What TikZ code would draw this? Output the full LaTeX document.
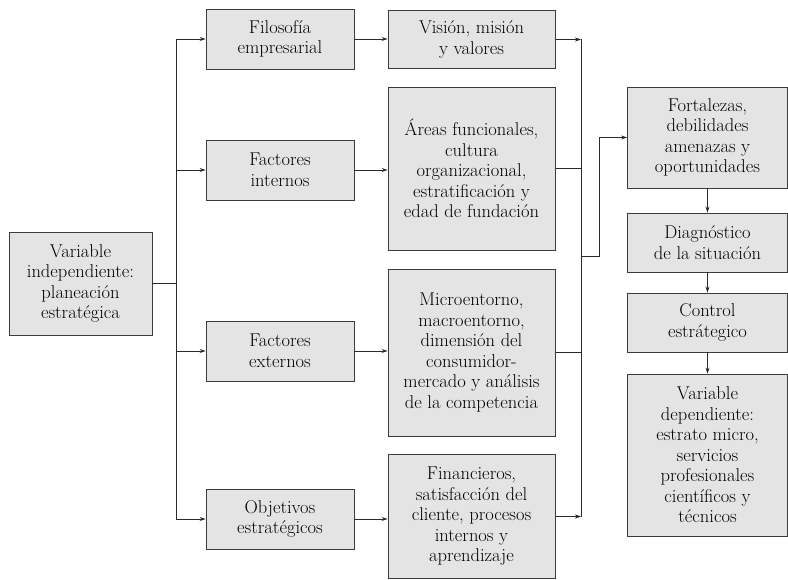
\documentclass[tikz,border=0pt]{standalone}
\usepackage{fontspec}
\setmainfont{Latin Modern Roman}
\usetikzlibrary{arrows.meta}
\definecolor{boxfill}{HTML}{E4E4E4}
\definecolor{boxline}{HTML}{3C3C3C}
\definecolor{lin}{HTML}{2A2A2A}
\begin{document}
\begin{tikzpicture}[x=1pt,y=-1pt,
  bx/.style={draw=boxline,fill=boxfill,line width=0.9pt,inner sep=0pt,align=center,
    font=\fontsize{18.5}{20.5}\selectfont},
  conn/.style={draw=lin,line width=0.8pt},
  arr/.style={conn,-{Stealth[length=6pt,width=4pt]}}]
\useasboundingbox (0,0) rectangle (788,580);
% column 1
\node[bx,minimum width=143pt,minimum height=103pt] (vi) at (80.5,283.5) {Variable\\independiente:\\planeación\\estratégica};
% column 2
\node[bx,minimum width=148pt,minimum height=60pt] (fil) at (280,39) {Filosofía\\empresarial};
\node[bx,minimum width=148pt,minimum height=60pt] (fi) at (280,170) {Factores\\internos};
\node[bx,minimum width=148pt,minimum height=60pt] (fe) at (280,351) {Factores\\externos};
\node[bx,minimum width=148pt,minimum height=60pt] (obj) at (280,519) {Objetivos\\estratégicos};
% column 3
\node[bx,minimum width=167pt,minimum height=58pt] (vis) at (471.5,39.5) {Visión, misión\\y valores};
\node[bx,minimum width=167pt,minimum height=163pt] (ar) at (471.5,168.5) {Áreas funcionales,\\cultura\\organizacional,\\estratificación y\\edad de fundación};
\node[bx,minimum width=167pt,minimum height=167pt] (mi) at (471.5,352.5) {Microentorno,\\macroentorno,\\dimensión del\\consumidor-\\mercado y análisis\\de la competencia};
\node[bx,minimum width=167pt,minimum height=124pt] (fin) at (471.5,516.5) {Financieros,\\satisfacción del\\cliente, procesos\\internos y\\aprendizaje};
% column 4
\node[bx,minimum width=160pt,minimum height=101pt] (fo) at (707.5,137.5) {Fortalezas,\\debilidades\\amenazas y\\oportunidades};
\node[bx,minimum width=160pt,minimum height=59pt] (di) at (707.5,242.5) {Diagnóstico\\de la situación};
\node[bx,minimum width=160pt,minimum height=59pt] (co) at (707.5,322.5) {Control\\estrátegico};
\node[bx,minimum width=160pt,minimum height=162pt] (vd) at (707.5,455) {Variable\\dependiente:\\estrato micro,\\servicios\\profesionales\\científicos y\\técnicos};
% trunk from vi
\draw[arr] (vi.east) -- ++(24,0) |- (fil.west);
\draw[arr] (vi.east) -- ++(24,0) |- (fi.west);
\draw[arr] (vi.east) -- ++(24,0) |- (fe.west);
\draw[arr] (vi.east) -- ++(24,0) |- (obj.west);
% column 2 to 3
\draw[arr] (fil.east) -- (fil.east -| vis.west);
\draw[arr] (fi.east) -- (fi.east -| ar.west);
\draw[arr] (fe.east) -- (fe.east -| mi.west);
\draw[arr] (obj.east) -- (obj.east -| fin.west);
% collector
\coordinate (cTop) at (581,39.5);
\coordinate (cBot) at (581,516.5);
\coordinate (cOut) at (581,256);
\draw[conn] (cTop) -- (cBot);
\draw[arr] (vis.east) -- (cTop);
\draw[arr] (fin.east) -- (cBot);
\draw[conn] (ar.east) -- (ar.east -| cTop);
\draw[conn] (mi.east) -- (mi.east -| cTop);
\draw[arr] (cOut) -- ++(18,0) |- (fo.west);
% column 4 chain
\draw[arr] (fo.south) -- (di.north);
\draw[arr] (di.south) -- (co.north);
\draw[arr] (co.south) -- (vd.north);
\end{tikzpicture}
\end{document}
